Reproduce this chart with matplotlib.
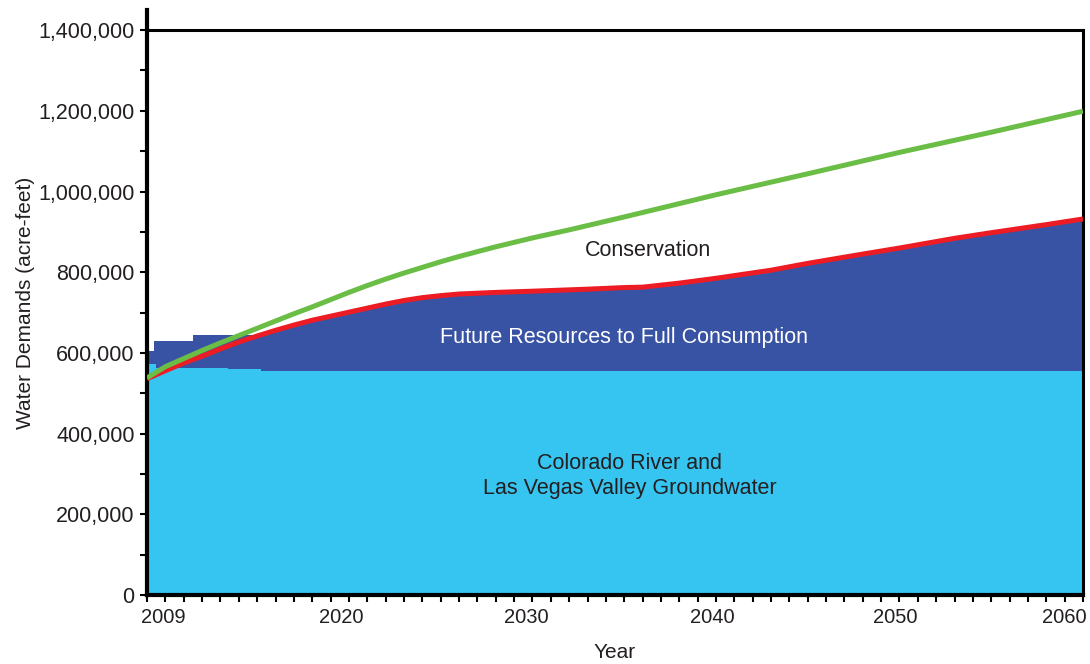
#Importing libraries.
import matplotlib.pyplot as plt
import matplotlib.transforms as mtransforms

plt.rcParams['font.family'] = ['Liberation Sans', 'DejaVu Sans']

# Data (acre-feet)
red_years = [2009, 2010, 2011, 2012, 2013, 2014, 2015, 2016, 2017, 2018, 2019, 2020,
             2021, 2022, 2023, 2024, 2025, 2026, 2028, 2030, 2033, 2035, 2036, 2038,
             2040, 2043, 2045, 2048, 2050, 2053, 2055, 2058, 2060]
red_vals = [536e3, 556e3, 575e3, 592e3, 610e3, 627e3, 642e3, 656e3, 669e3, 681e3, 691e3, 701e3,
            711e3, 721e3, 730e3, 737e3, 742e3, 746e3, 750e3, 753e3, 758e3, 762e3, 763e3, 773e3,
            785e3, 805e3, 822e3, 845e3, 860e3, 884e3, 898e3, 918e3, 932e3]

green_years = [2009, 2010, 2011, 2012, 2013, 2014, 2015, 2016, 2017, 2018, 2019, 2020,
               2021, 2022, 2023, 2024, 2025, 2026, 2027, 2028, 2029, 2030, 2031, 2032,
               2035, 2038, 2040, 2045, 2050, 2055, 2060]
green_vals = [538e3, 566e3, 586e3, 606e3, 625e3, 643e3, 661e3, 679e3, 697e3, 714e3, 732e3, 750e3,
              767e3, 783e3, 798e3, 812e3, 826e3, 839e3, 851e3, 863e3, 874e3, 885e3, 895e3, 905e3,
              937e3, 970e3, 992e3, 1044e3, 1097e3, 1147e3, 1199e3]

# Colorado River + groundwater (steps in first years)
lb_edges = [2009, 2009.5, 2013.4, 2015.2, 2060]
lb_vals = [573e3, 563e3, 560e3, 556e3]

# early future-resources steps
db_edges = [2009, 2009.4, 2011.5, 2015]
db_vals = [605e3, 629e3, 644e3]

y_ticks = [0, 200000, 400000, 600000, 800000, 1000000, 1200000, 1400000]
x_ticks = [2009, 2020, 2030, 2040, 2050, 2060]

txt = '#231f20'

fig = plt.figure(figsize=(10.9, 6.64), dpi=100)
ax = fig.add_axes([0.1349, 0.1039, 0.8587, 0.8811])

ax.fill_between(red_years, 0, red_vals, color='#3953a4', lw=0, zorder=1)
ax.stairs(db_vals, db_edges, fill=True, baseline=0, color='#3953a4', zorder=1)
ax.stairs(lb_vals, lb_edges, fill=True, baseline=0, color='#36c5f1', zorder=2)
ax.plot(red_years, red_vals, color='#ed1c24', lw=3.6, zorder=3, solid_capstyle='butt')
ax.plot(green_years, green_vals, color='#6abd45', lw=3.6, zorder=4, solid_capstyle='butt')

ax.set_xlim(2009, 2060)
ax.set_ylim(0, 1450000)

# frame
for s in ['left', 'bottom']:
    ax.spines[s].set_linewidth(3)
ax.spines['top'].set_visible(False)
ax.spines['right'].set_linewidth(2.2)
ax.spines['right'].set_bounds(0, 1400000)
ax.hlines(1400000, 2009, 2060, color='black', lw=2.2, zorder=5, clip_on=False)

ax.set_yticks(y_ticks)
ax.set_yticklabels(['{:,}'.format(v) for v in y_ticks])
ax.set_yticks(range(0, 1450000, 100000), minor=True)
ax.set_xticks(x_ticks)
ax.set_xticklabels([str(v) for v in x_ticks])
ax.set_xticks(range(2009, 2061), minor=True)
ax.tick_params(which='both', direction='out', length=5, width=1.5, color='black',
               labelcolor=txt, pad=4)
ax.tick_params(axis='x', labelsize=14.5)
ax.tick_params(axis='y', labelsize=15.5, right=False)

# nudge the x labels like in the original
shifts = [16, -8, -6, -4, -4, -19]
for lab, dx in zip(ax.get_xticklabels(), shifts):
    lab.set_transform(lab.get_transform() + mtransforms.ScaledTranslation(dx / 100, 0, fig.dpi_scale_trans))

ax.set_ylabel('Water Demands (acre-feet)', fontsize=15, color=txt, labelpad=2)
ax.set_xlabel('Year', fontsize=15, color=txt, labelpad=12)

ax.text(2036.3, 855000, 'Conservation', ha='center', va='center', fontsize=15.5, color=txt, zorder=6)
ax.text(2035.0, 639000, 'Future Resources to Full Consumption', ha='center', va='center',
        fontsize=15.5, color='white', zorder=6)
ax.text(2035.3, 294000, 'Colorado River and\nLas Vegas Valley Groundwater', ha='center', va='center',
        fontsize=15.5, color=txt, linespacing=1.25, zorder=6)

fig.savefig('out.png', dpi=100)
